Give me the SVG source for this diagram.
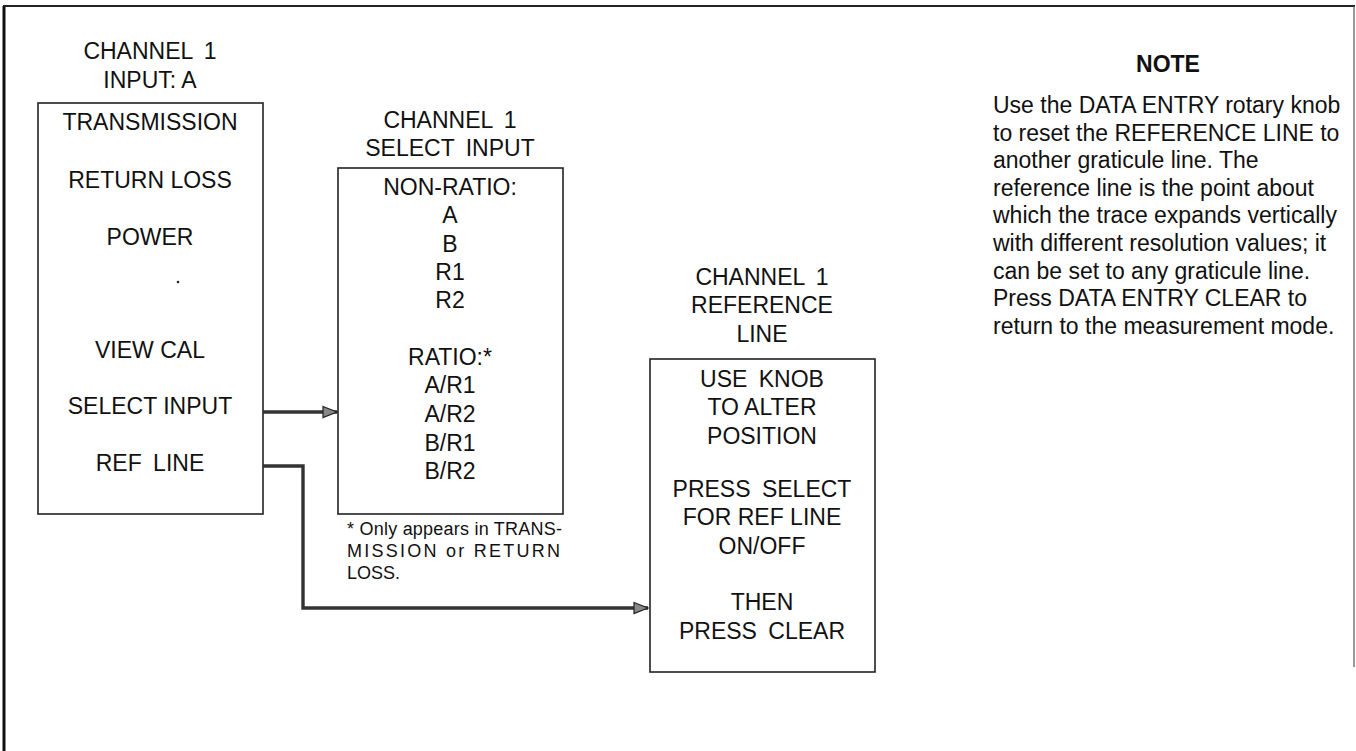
<svg xmlns="http://www.w3.org/2000/svg" width="1356" height="751" viewBox="0 0 1356 751">
  <style>
    .t { font-family: "Liberation Sans", Arial, sans-serif; font-size: 23px; fill: #111; text-anchor: middle; }
    .w { word-spacing: 5px; }
    .n { font-family: "Liberation Sans", Arial, sans-serif; font-size: 23px; fill: #111; }
    .nb { font-family: "Liberation Sans", Arial, sans-serif; font-size: 23px; font-weight: bold; fill: #111; text-anchor: middle; }
    .fn { font-family: "Liberation Sans", Arial, sans-serif; font-size: 18px; fill: #111; }
    .box { fill: #fff; stroke: #222; stroke-width: 1.6; }
    .conn { fill: none; stroke: #333; stroke-width: 3.4; }
  </style>
  <defs>
    <marker id="arr" markerUnits="userSpaceOnUse" markerWidth="16" markerHeight="14" refX="15" refY="7" orient="auto">
      <path d="M1,1.5 L15,7 L1,12.5 Z" fill="#888" stroke="#222" stroke-width="1.2"/>
    </marker>
  </defs>
  <rect x="0" y="0" width="1356" height="751" fill="#fff"/>

  <g id="frame">
    <line x1="4" y1="6" x2="4" y2="751" stroke="#111" stroke-width="3"/>
    <line x1="3" y1="6" x2="1355" y2="6" stroke="#222" stroke-width="2"/>
    <line x1="1354" y1="6" x2="1354" y2="667" stroke="#555" stroke-width="1.2"/>
  </g>

  <g id="input-menu">
    <text class="t w" x="150" y="59">CHANNEL 1</text>
    <text class="t" x="150" y="88">INPUT: A</text>
    <rect class="box" x="38" y="103" width="225" height="411"/>
    <text class="t" x="150" y="130">TRANSMISSION</text>
    <text class="t" x="150" y="188">RETURN LOSS</text>
    <text class="t" x="150" y="245">POWER</text>
    <circle cx="178" cy="282" r="1.3" fill="#222"/>
    <text class="t" x="150" y="358">VIEW CAL</text>
    <text class="t" x="150" y="414">SELECT INPUT</text>
    <text class="t w" x="150" y="471">REF LINE</text>
  </g>

  <g id="select-input-menu">
    <text class="t w" x="450" y="128">CHANNEL 1</text>
    <text class="t w" x="450" y="156">SELECT INPUT</text>
    <rect class="box" x="338" y="168" width="225" height="346"/>
    <text class="t" x="450" y="195">NON-RATIO:</text>
    <text class="t" x="450" y="223">A</text>
    <text class="t" x="450" y="252">B</text>
    <text class="t" x="450" y="280">R1</text>
    <text class="t" x="450" y="308">R2</text>
    <text class="t" x="450" y="365">RATIO:*</text>
    <text class="t" x="450" y="393">A/R1</text>
    <text class="t" x="450" y="422">A/R2</text>
    <text class="t" x="450" y="451">B/R1</text>
    <text class="t" x="450" y="479">B/R2</text>
    <text class="fn" x="347" y="535" textLength="215" lengthAdjust="spacing">* Only appears in TRANS-</text>
    <text class="fn" x="347" y="557" textLength="213" lengthAdjust="spacing">MISSION or RETURN</text>
    <text class="fn" x="347" y="579">LOSS.</text>
  </g>

  <g id="ref-line-menu">
    <text class="t w" x="762" y="285">CHANNEL 1</text>
    <text class="t" x="762" y="313">REFERENCE</text>
    <text class="t" x="762" y="342">LINE</text>
    <rect class="box" x="650" y="359" width="225" height="313"/>
    <text class="t w" x="762" y="387">USE KNOB</text>
    <text class="t" x="762" y="415">TO ALTER</text>
    <text class="t" x="762" y="444">POSITION</text>
    <text class="t w" x="762" y="497">PRESS SELECT</text>
    <text class="t" x="762" y="525">FOR REF LINE</text>
    <text class="t" x="762" y="554">ON/OFF</text>
    <text class="t" x="762" y="610">THEN</text>
    <text class="t w" x="762" y="639">PRESS CLEAR</text>
  </g>

  <g id="note">
    <text class="nb" x="1168" y="72">NOTE</text>
    <text class="n" x="993" y="113">Use the DATA ENTRY rotary knob</text>
    <text class="n" x="993" y="140.6">to reset the REFERENCE LINE to</text>
    <text class="n" x="993" y="168.2">another graticule line.  The</text>
    <text class="n" x="993" y="195.8">reference line is the point about</text>
    <text class="n" x="993" y="223.4">which the trace expands vertically</text>
    <text class="n" x="993" y="251">with different resolution values; it</text>
    <text class="n" x="993" y="278.6">can be set to any graticule line.</text>
    <text class="n" x="993" y="306.2">Press DATA ENTRY CLEAR to</text>
    <text class="n" x="993" y="333.8">return to the measurement mode.</text>
  </g>

  <g id="connectors">
    <path class="conn" d="M263,412 L337,412" marker-end="url(#arr)"/>
    <path class="conn" d="M263,466 L303,466 L303,608 L648,608" marker-end="url(#arr)"/>
  </g>
</svg>
